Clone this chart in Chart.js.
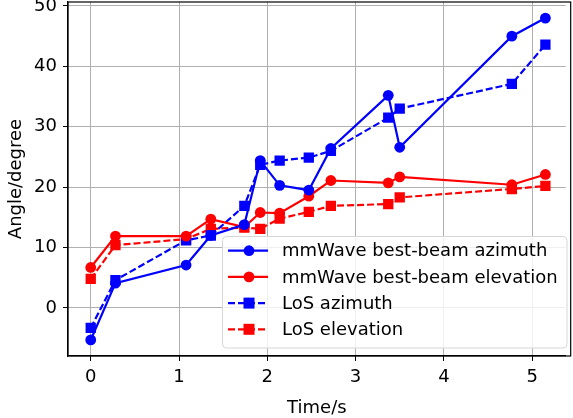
<!DOCTYPE html>
<html>
<head>
<meta charset="utf-8">
<script src="https://cdn.jsdelivr.net/npm/chart.js@4.4.0/dist/chart.umd.min.js"></script>
<style>
html,body{margin:0;padding:0;background:#fff;}
#wrap{width:573px;height:418px;position:relative;}
</style>
</head>
<body>
<div id="wrap"><canvas id="c" width="573" height="418"></canvas></div>
<script>
const times = [0, 0.28, 1.08, 1.36, 1.74, 1.92, 2.14, 2.47, 2.72, 3.37, 3.5, 4.77, 5.15];
const mmAzimuth   = [-5.3, 4.1, 7.1, 12.0, 13.8, 24.4, 20.3, 19.5, 26.4, 35.2, 26.6, 45.0, 48.0];
const mmElevation = [6.7, 11.9, 11.9, 14.7, 13.4, 15.8, 15.7, 18.5, 21.1, 20.7, 21.7, 20.4, 22.1];
const losAzimuth  = [-3.3, 4.6, 11.2, 12.0, 16.9, 23.7, 24.4, 24.9, 26.0, 31.5, 33.0, 37.1, 43.6];
const losElevation= [4.8, 10.4, 11.4, 13.1, 13.3, 13.1, 14.8, 15.9, 16.9, 17.2, 18.3, 19.7, 20.2];
const xTicks = [0, 1, 2, 3, 4, 5];
const yTicks = [0, 10, 20, 30, 40, 50];
const seriesLabels = ['mmWave best-beam azimuth', 'mmWave best-beam elevation', 'LoS azimuth', 'LoS elevation'];

const FONT = "'DejaVu Sans', sans-serif";
const FS = 18;
const pts = arr => arr.map((v, i) => ({x: times[i], y: v}));

function ds(label, data, color, dashed) {
  return {
    label, data: pts(data),
    borderColor: color, backgroundColor: color,
    borderWidth: 2.2,
    borderDash: dashed ? [7, 3] : [],
    pointStyle: dashed ? 'rect' : 'circle',
    pointRadius: dashed ? 7.3 : 5.4,
    pointBorderWidth: 0,
    pointHoverRadius: dashed ? 7.3 : 5.4,
    tension: 0, fill: false
  };
}

const frame = {
  id: 'frame',
  afterLayout(chart) {
    const a = chart.chartArea, y = chart.scales.y, x = chart.scales.x;
    const T = 2, B = 356;
    a.top = T; a.bottom = B; a.height = B - T;
    y.top = T; y.bottom = B; y.height = B - T;
    y.configure();
    x.top = B; x.height = x.bottom - B;
    x.configure();
  },
  afterDatasetsDraw(chart) {
    const {ctx, chartArea: a} = chart;
    ctx.save();
    ctx.strokeStyle = '#000';
    ctx.lineWidth = 1.2;
    ctx.strokeRect(a.left, a.top, a.right - a.left + 5, a.bottom - a.top);
    ctx.restore();
  },
  afterDraw(chart) {
    const {ctx} = chart;
    const L = 222.5, T = 236.5, R = 567, B = 348;
    ctx.save();
    ctx.beginPath();
    if (ctx.roundRect) ctx.roundRect(L, T, R - L, B - T, 4); else ctx.rect(L, T, R - L, B - T);
    ctx.fillStyle = 'rgba(255,255,255,0.8)';
    ctx.fill();
    ctx.strokeStyle = '#d6d6d6';
    ctx.lineWidth = 1;
    ctx.stroke();
    const rows = [250.7, 276.9, 303.1, 329.3];
    chart.data.datasets.forEach((d, i) => {
      const y = rows[i];
      ctx.strokeStyle = d.borderColor;
      ctx.fillStyle = d.borderColor;
      ctx.lineWidth = 2.2;
      ctx.setLineDash(d.borderDash);
      ctx.beginPath();
      ctx.moveTo(228, y); ctx.lineTo(268, y);
      ctx.stroke();
      ctx.setLineDash([]);
      if (d.pointStyle === 'rect') ctx.fillRect(243.5, y - 5.5, 11, 11);
      else { ctx.beginPath(); ctx.arc(249, y, 5.4, 0, Math.PI * 2); ctx.fill(); }
      ctx.fillStyle = '#000';
      ctx.font = FS + 'px ' + FONT;
      ctx.textBaseline = 'middle';
      ctx.textAlign = 'left';
      ctx.fillText(d.label, 282, y + 1);
    });
    ctx.restore();
  }
};

new Chart(document.getElementById('c'), {
  type: 'line',
  data: {
    datasets: [
      ds(seriesLabels[0], mmAzimuth, '#0000ff', false),
      ds(seriesLabels[1], mmElevation, '#ff0000', false),
      ds(seriesLabels[2], losAzimuth, '#0000ff', true),
      ds(seriesLabels[3], losElevation, '#ff0000', true)
    ]
  },
  options: {
    responsive: false,
    animation: false,
    layout: {padding: {top: 0, right: 0, left: 0, bottom: 0}},
    plugins: {legend: {display: false}, tooltip: {enabled: false}},
    scales: {
      x: {
        type: 'linear',
        min: -0.2575, max: 5.38,
        afterBuildTicks: s => { s.ticks = xTicks.map(v => ({value: v})); },
        afterFit: s => { s.height = 62; s.paddingLeft = 0; s.paddingRight = 0; },
        grid: {color: '#b0b0b0', lineWidth: 1, drawTicks: true, tickLength: 5, tickColor: '#000'},
        border: {color: '#000', width: 1.2},
        ticks: {color: '#000', font: {family: FONT, size: FS}, padding: 6, maxRotation: 0},
        title: {display: true, text: 'Time/s', color: '#000', font: {family: FONT, size: FS}, padding: {top: 0, bottom: -1}}
      },
      y: {
        type: 'linear',
        min: -7.96, max: 50.66,
        afterBuildTicks: s => { s.ticks = yTicks.map(v => ({value: v})); },
        afterFit: s => { s.width = 68; },
        grid: {color: '#b0b0b0', lineWidth: 1, drawTicks: true, tickLength: 5, tickColor: '#000'},
        border: {color: '#000', width: 1.2},
        ticks: {color: '#000', font: {family: FONT, size: FS}, padding: 6},
        title: {display: true, text: 'Angle/degree', color: '#000', font: {family: FONT, size: FS}, padding: {top: 6, bottom: 0}}
      }
    }
  },
  plugins: [frame]
});
</script>
</body>
</html>
